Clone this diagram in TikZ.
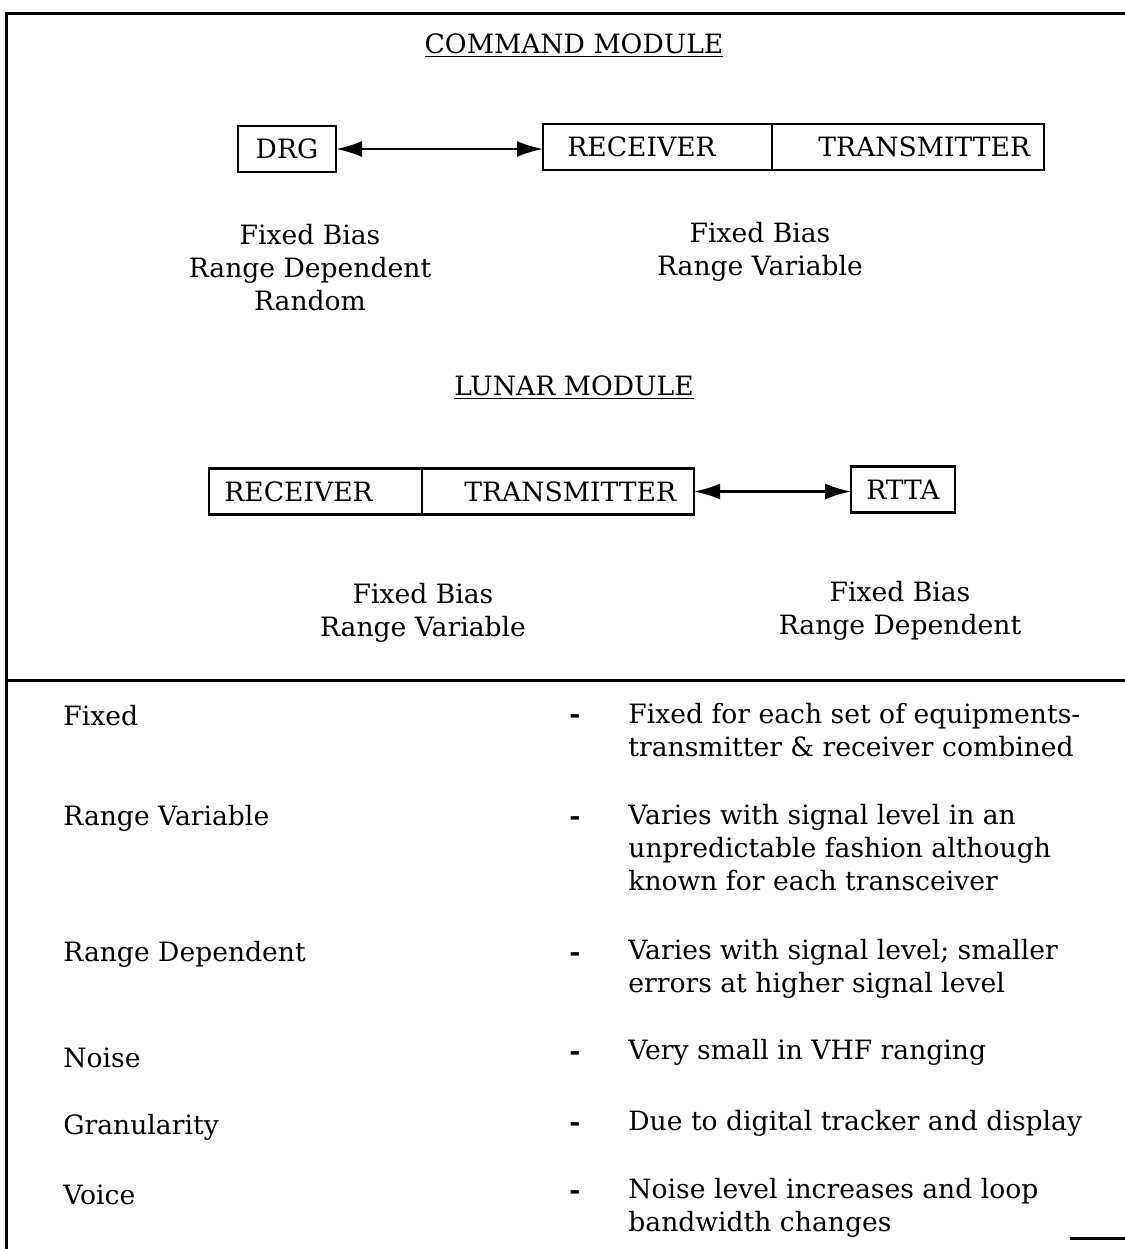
\documentclass[tikz,border=0pt]{standalone}
\usepackage{fontspec}
\setmainfont{DejaVu Serif}
\usetikzlibrary{arrows.meta,positioning,calc}

\begin{document}
\begin{tikzpicture}[x=0.5pt,y=-0.5pt,
  every node/.style={font=\fontsize{13.3}{16.5}\selectfont,inner sep=0pt},
  box/.style={draw,line width=1.4pt,minimum height=23pt,outer sep=0pt},
  frame/.style={line width=1.5pt},
  arr/.style={{Latex[length=13pt,width=8pt]}-{Latex[length=13pt,width=8pt]},line width=1.2pt},
  note/.style={align=center},
  sepmark/.style={font=\fontsize{13.3}{16.5}\selectfont\bfseries},
  desc/.style={align=left,anchor=west}]
\useasboundingbox (0,0) rectangle (1125,1249);
% frame
\draw[frame] (1125,13) -- (6,13) -- (6,1249);
\draw[frame] (6,680) -- (1125,680);
\draw[frame] (1070,1238) -- (1125,1238);
% command module
\node (cmtitle) at (574,46) {\underline{COMMAND MODULE}};
\node[box,minimum width=49pt] (drg) at (287,149) {DRG};
\node[box,minimum width=114.5pt] (cmrec) at (657.5,147) {};
\node[box,minimum width=136pt,right=0pt of cmrec] (cmtrans) {};
\node[anchor=west] (cmrectext) at ($(cmrec.west)+(12pt,0)$) {RECEIVER};
\node[anchor=west] (cmtranstext) at ($(cmtrans.west)+(23pt,0)$) {TRANSMITTER};
\draw[arr] (drg.east) -- (drg.east -| cmrec.west);
\node[note] (drgnote) at (310,268) {Fixed Bias\\Range Dependent\\Random};
\node[note] (cmnote) at (760,252) {Fixed Bias\\Range Variable};
% lunar module
\node (lmtitle) at (574,388) {\underline{LUNAR MODULE}};
\node[box,minimum width=106.5pt] (lmrec) at (315.5,491.5) {};
\node[box,minimum width=136pt,right=0pt of lmrec] (lmtrans) {};
\node[anchor=west] (lmrectext) at ($(lmrec.west)+(7.5pt,0)$) {RECEIVER};
\node[anchor=west] (lmtranstext) at ($(lmtrans.west)+(21pt,0)$) {TRANSMITTER};
\node[box,minimum width=52pt] (rtta) at (903,489.5) {RTTA};
\draw[arr] (lmtrans.east) -- (lmtrans.east -| rtta.west);
\node[note] (lmnote) at (423,613) {Fixed Bias\\Range Variable};
\node[note] (rttanote) at (900,611) {Fixed Bias\\Range Dependent};
% error sources
\node[anchor=west] (fixed) at (63,716) {Fixed};
\node[sepmark] (fixeddash) at (575,719) {-};
\node[desc] (fixeddesc) at (628,730) {Fixed for each set of equipments-\\transmitter \& receiver combined};
\node[anchor=west] (rvar) at (63,818) {Range Variable};
\node[sepmark] (rvardash) at (575,821) {-};
\node[desc] (rvardesc) at (628,847.5) {Varies with signal level in an\\unpredictable fashion although\\known for each transceiver};
\node[anchor=west] (rdep) at (63,954) {Range Dependent};
\node[sepmark] (rdepdash) at (575,957) {-};
\node[desc] (rdepdesc) at (628,969) {Varies with signal level; smaller\\errors at higher signal level};
\node[anchor=west] (noise) at (63,1058) {Noise};
\node[sepmark] (noisedash) at (575,1056) {-};
\node[desc] (noisedesc) at (628,1052) {Very small in VHF ranging};
\node[anchor=west] (gran) at (63,1127) {Granularity};
\node[sepmark] (grandash) at (575,1127) {-};
\node[desc] (grandesc) at (628,1123) {Due to digital tracker and display};
\node[anchor=west] (voice) at (63,1195) {Voice};
\node[sepmark] (voicedash) at (575,1195) {-};
\node[desc] (voicedesc) at (628,1208) {Noise level increases and loop\\bandwidth changes};
\end{tikzpicture}
\end{document}
